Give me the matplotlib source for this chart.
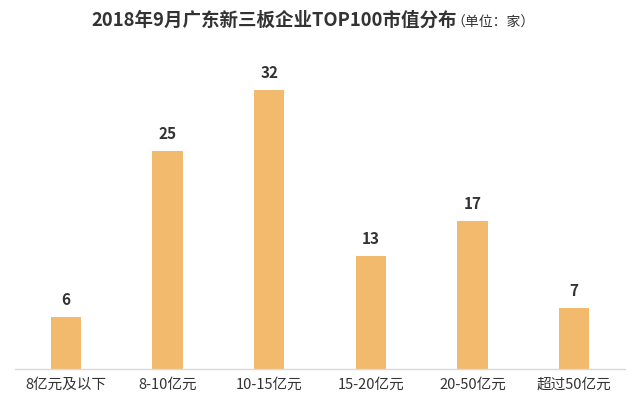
import matplotlib

matplotlib.use("Agg")
import matplotlib.pyplot as plt  # noqa: E402
import numpy as np  # noqa: E402

CATEGORIES = ["8亿元及以下", "8-10亿元", "10-15亿元", "15-20亿元", "20-50亿元", "超过50亿元"]
COUNTS = [6, 25, 32, 13, 17, 7]

BAR_COLOR = "#F2BA6C"
TEXT_COLOR = "#333333"

plt.rcParams["font.family"] = ["Noto Sans CJK SC", "DejaVu Sans"]

fig = plt.figure(figsize=(6.4, 3.99), dpi=100)
ax = fig.add_axes((15 / 640, 30 / 399, 610 / 640, 329 / 399))

x = np.arange(len(CATEGORIES))
ax.bar(x, COUNTS, width=0.30, color=BAR_COLOR)
for xi, v in zip(x, COUNTS):
    ax.text(xi, v + 1.0, str(v), ha="center", va="bottom", fontsize=11,
            fontweight="bold", color=TEXT_COLOR)

ax.set_xlim(-0.5, len(CATEGORIES) - 0.5)
ax.set_ylim(0, 37.7)
ax.set_xticks(x)
ax.set_xticklabels(CATEGORIES, fontsize=10.5, color=TEXT_COLOR, fontweight="medium")
ax.tick_params(axis="x", length=0, pad=6)
ax.set_yticks([])
for side in ("top", "right", "left"):
    ax.spines[side].set_visible(False)
ax.spines["bottom"].set_color("#d9d9d9")
ax.spines["bottom"].set_linewidth(1.0)

fig.text(0.143, 0.948, "2018年9月广东新三板企业TOP100市值分布", fontsize=13.3,
         fontweight="bold", color=TEXT_COLOR, va="center", ha="left")
fig.text(0.705, 0.943, "（单位：家）", fontsize=10, color=TEXT_COLOR,
         va="center", ha="left")

fig.savefig("out.png", dpi=100, facecolor="white")
